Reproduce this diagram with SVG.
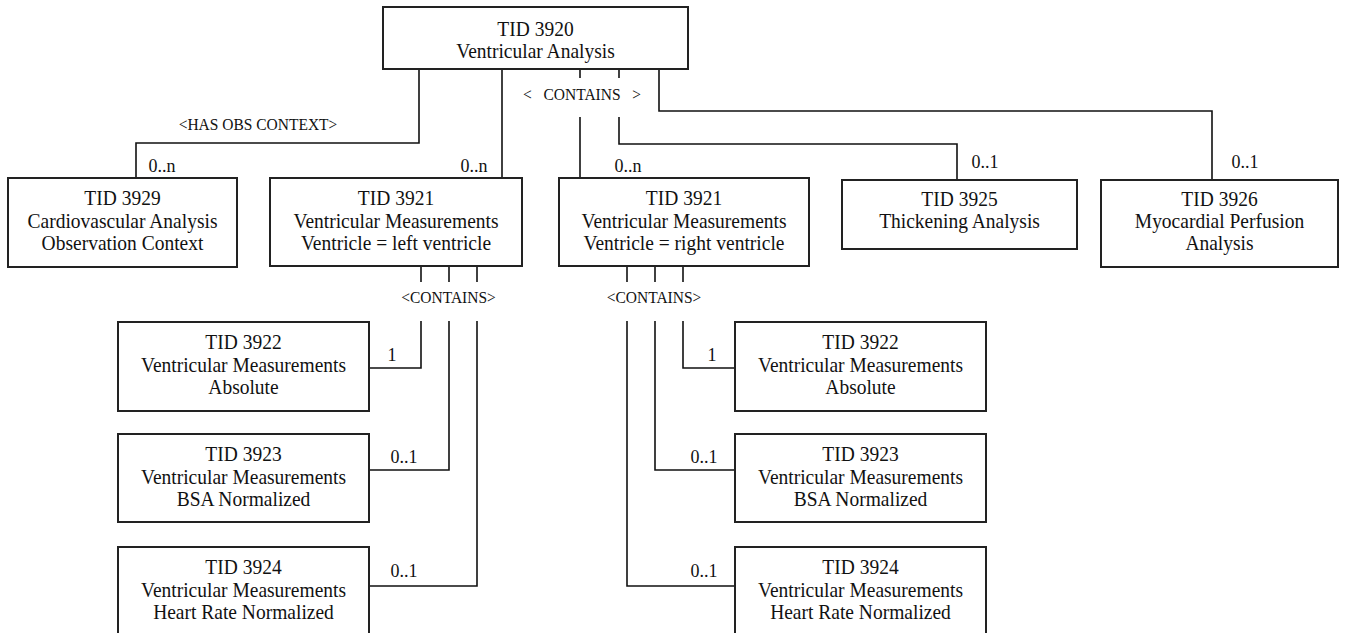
<svg xmlns="http://www.w3.org/2000/svg" width="1346" height="633" viewBox="0 0 1346 633">
<style>
.box{fill:#fff;stroke:#222;stroke-width:2}
.ln{fill:none;stroke:#111;stroke-width:1.6}
.t{font-family:"Liberation Serif","Times New Roman",serif;font-size:19.5px;fill:#111;text-anchor:middle}
.c{font-family:"Liberation Serif","Times New Roman",serif;font-size:18px;fill:#111;text-anchor:middle}
.s{font-family:"Liberation Serif","Times New Roman",serif;font-size:15.5px;fill:#111;text-anchor:middle}
</style>
<rect width="1346" height="633" fill="#fff"/>
<g id="connectors">
<polyline class="ln" points="419,69 419,143 136,143 136,179"/>
<polyline class="ln" points="502,69 502,180"/>
<polyline class="ln" points="580,69 580,78"/>
<polyline class="ln" points="580,117 580,180"/>
<polyline class="ln" points="619,69 619,78"/>
<polyline class="ln" points="619,117 619,144 957,144 957,181"/>
<polyline class="ln" points="659,69 659,111 1212,111 1212,181"/>
<polyline class="ln" points="421,266 421,282"/>
<polyline class="ln" points="449,266 449,282"/>
<polyline class="ln" points="477,266 477,282"/>
<polyline class="ln" points="421,321 421,368 369,368"/>
<polyline class="ln" points="449,321 449,470 369,470"/>
<polyline class="ln" points="477,321 477,586 369,586"/>
<polyline class="ln" points="627,266 627,282"/>
<polyline class="ln" points="655,266 655,282"/>
<polyline class="ln" points="683,266 683,282"/>
<polyline class="ln" points="683,321 683,368 735,368"/>
<polyline class="ln" points="655,321 655,470 735,470"/>
<polyline class="ln" points="627,321 627,586 735,586"/>
<text class="s" transform="translate(258 130) scale(1 1.1)">&lt;HAS OBS CONTEXT&gt;</text>
<text class="s" xml:space="preserve" transform="translate(582 100) scale(1 1.1)">&lt;   CONTAINS   &gt;</text>
<text class="c" transform="translate(162 172) scale(1 1.05)">0..n</text>
<text class="c" transform="translate(474 172) scale(1 1.05)">0..n</text>
<text class="c" transform="translate(628 172) scale(1 1.05)">0..n</text>
<text class="c" transform="translate(985 168) scale(1 1.05)">0..1</text>
<text class="c" transform="translate(1245 168) scale(1 1.05)">0..1</text>
<text class="s" transform="translate(448.5 303) scale(1 1.1)">&lt;CONTAINS&gt;</text>
<text class="s" transform="translate(654 303) scale(1 1.1)">&lt;CONTAINS&gt;</text>
<text class="c" transform="translate(392 361) scale(1 1.05)">1</text>
<text class="c" transform="translate(404 463) scale(1 1.05)">0..1</text>
<text class="c" transform="translate(404 577) scale(1 1.05)">0..1</text>
<text class="c" transform="translate(712 361) scale(1 1.05)">1</text>
<text class="c" transform="translate(704 463) scale(1 1.05)">0..1</text>
<text class="c" transform="translate(704 577) scale(1 1.05)">0..1</text>
</g>
<g id="tid3920">
<rect class="box" x="383" y="7" width="305" height="62"/>
<text class="t" transform="translate(535.5 36) scale(1 1.1)">TID 3920</text>
<text class="t" transform="translate(535.5 58) scale(1 1.1)">Ventricular Analysis</text>
</g>
<g id="tid3929">
<rect class="box" x="8" y="178" width="229" height="89"/>
<text class="t" transform="translate(122.5 205) scale(1 1.1)">TID 3929</text>
<text class="t" transform="translate(122.5 228) scale(1 1.1)">Cardiovascular Analysis</text>
<text class="t" transform="translate(122.5 250) scale(1 1.1)">Observation Context</text>
</g>
<g id="tid3921-left">
<rect class="box" x="270" y="178" width="252" height="88"/>
<text class="t" transform="translate(396 205) scale(1 1.1)">TID 3921</text>
<text class="t" transform="translate(396 228) scale(1 1.1)">Ventricular Measurements</text>
<text class="t" transform="translate(396 250) scale(1 1.1)">Ventricle = left ventricle</text>
</g>
<g id="tid3921-right">
<rect class="box" x="559" y="178" width="250" height="88"/>
<text class="t" transform="translate(684 205) scale(1 1.1)">TID 3921</text>
<text class="t" transform="translate(684 228) scale(1 1.1)">Ventricular Measurements</text>
<text class="t" transform="translate(684 250) scale(1 1.1)">Ventricle = right ventricle</text>
</g>
<g id="tid3925">
<rect class="box" x="842" y="180" width="235" height="69"/>
<text class="t" transform="translate(959.5 206) scale(1 1.1)">TID 3925</text>
<text class="t" transform="translate(959.5 228) scale(1 1.1)">Thickening Analysis</text>
</g>
<g id="tid3926">
<rect class="box" x="1101" y="180" width="237" height="87"/>
<text class="t" transform="translate(1219.5 206) scale(1 1.1)">TID 3926</text>
<text class="t" transform="translate(1219.5 228) scale(1 1.1)">Myocardial Perfusion</text>
<text class="t" transform="translate(1219.5 250) scale(1 1.1)">Analysis</text>
</g>
<g id="tid3922-left">
<rect class="box" x="118" y="322" width="251" height="89"/>
<text class="t" transform="translate(243.5 349) scale(1 1.1)">TID 3922</text>
<text class="t" transform="translate(243.5 372) scale(1 1.1)">Ventricular Measurements</text>
<text class="t" transform="translate(243.5 394) scale(1 1.1)">Absolute</text>
</g>
<g id="tid3923-left">
<rect class="box" x="118" y="434" width="251" height="88"/>
<text class="t" transform="translate(243.5 461) scale(1 1.1)">TID 3923</text>
<text class="t" transform="translate(243.5 484) scale(1 1.1)">Ventricular Measurements</text>
<text class="t" transform="translate(243.5 506) scale(1 1.1)">BSA Normalized</text>
</g>
<g id="tid3924-left">
<rect class="box" x="118" y="547" width="251" height="100"/>
<text class="t" transform="translate(243.5 574) scale(1 1.1)">TID 3924</text>
<text class="t" transform="translate(243.5 597) scale(1 1.1)">Ventricular Measurements</text>
<text class="t" transform="translate(243.5 619) scale(1 1.1)">Heart Rate Normalized</text>
</g>
<g id="tid3922-right">
<rect class="box" x="735" y="322" width="251" height="89"/>
<text class="t" transform="translate(860.5 349) scale(1 1.1)">TID 3922</text>
<text class="t" transform="translate(860.5 372) scale(1 1.1)">Ventricular Measurements</text>
<text class="t" transform="translate(860.5 394) scale(1 1.1)">Absolute</text>
</g>
<g id="tid3923-right">
<rect class="box" x="735" y="434" width="251" height="88"/>
<text class="t" transform="translate(860.5 461) scale(1 1.1)">TID 3923</text>
<text class="t" transform="translate(860.5 484) scale(1 1.1)">Ventricular Measurements</text>
<text class="t" transform="translate(860.5 506) scale(1 1.1)">BSA Normalized</text>
</g>
<g id="tid3924-right">
<rect class="box" x="735" y="547" width="251" height="100"/>
<text class="t" transform="translate(860.5 574) scale(1 1.1)">TID 3924</text>
<text class="t" transform="translate(860.5 597) scale(1 1.1)">Ventricular Measurements</text>
<text class="t" transform="translate(860.5 619) scale(1 1.1)">Heart Rate Normalized</text>
</g>
</svg>
